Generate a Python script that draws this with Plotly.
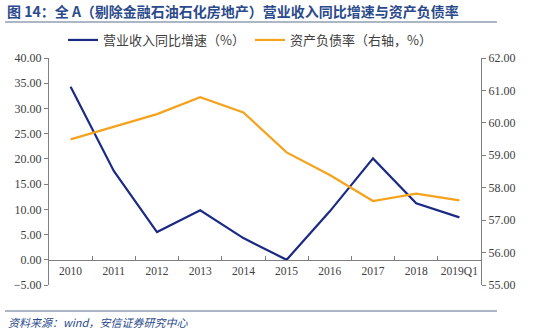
import plotly.graph_objects as go

categories = ["2010", "2011", "2012", "2013", "2014", "2015", "2016", "2017", "2018", "2019Q1"]
revenue_growth = [34.3, 17.6, 5.5, 9.8, 4.3, 0.0, 9.6, 20.1, 11.2, 8.4]
debt_ratio = [59.49, 59.88, 60.27, 60.79, 60.32, 59.09, 58.39, 57.59, 57.82, 57.61]

left_ticks = [-5, 0, 5, 10, 15, 20, 25, 30, 35, 40]
right_ticks = [55, 56, 57, 58, 59, 60, 61, 62]

BLUE = "#1B2A84"
ORANGE = "#F5A21C"
TXT = "#404040"
HEAD = "#2B4A8B"
serif = "Liberation Serif"
cjk = "Noto Sans CJK SC"

fig = go.Figure()
fig.add_trace(go.Scatter(x=categories, y=revenue_growth, mode="lines",
                         name="营业收入同比增速（%）",
                         line=dict(color=BLUE, width=2.2), yaxis="y"))
fig.add_trace(go.Scatter(x=categories, y=debt_ratio, mode="lines",
                         name="资产负债率（右轴，%）",
                         line=dict(color=ORANGE, width=2.2), yaxis="y2"))

W, H = 550, 333
L, R, T, B = 49, 69, 58, 48
pw, ph = W - L - R, H - T - B
def px(x):
    return (x - L) / pw
def py(y):
    return (H - B - y) / ph

zero_pos = 5 / 45.0

fig.update_layout(
    width=W, height=H,
    margin=dict(l=L, r=R, t=T, b=B),
    paper_bgcolor="white", plot_bgcolor="white",
    showlegend=True,
    legend=dict(orientation="h", x=px(250), xanchor="center", y=py(40), yanchor="middle",
                font=dict(family=cjk, size=13, color=TXT), bgcolor="rgba(0,0,0,0)",
                itemwidth=30, tracegroupgap=0),
    xaxis=dict(type="category", anchor="free", position=zero_pos,
               showline=True, linecolor="#808080", linewidth=1,
               ticks="inside", tickson="boundaries", ticklen=4, tickcolor="#808080",
               showgrid=False, zeroline=False, tickangle=0,
               tickfont=dict(family=serif, size=11.5, color=TXT),
               range=[-0.5, 9.5]),
    yaxis=dict(range=[-5, 40], tickvals=left_ticks, tickformat=".2f",
               showline=True, linecolor="#808080", linewidth=1,
               ticks="outside", ticklen=4, tickcolor="#808080",
               showgrid=False, zeroline=False,
               tickfont=dict(family=serif, size=12, color=TXT)),
    yaxis2=dict(range=[55, 62], tickvals=right_ticks, tickformat=".2f",
                overlaying="y", side="right",
                showline=True, linecolor="#808080", linewidth=1,
                ticks="outside", ticklen=4, tickcolor="#808080",
                showgrid=False, zeroline=False,
                tickfont=dict(family=serif, size=12, color=TXT)),
    shapes=[
        dict(type="line", xref="paper", yref="paper", x0=px(5), x1=px(497), y0=py(22), y1=py(22),
             line=dict(color="#5A6E8C", width=1.2)),
        dict(type="line", xref="paper", yref="paper", x0=px(5), x1=px(497), y0=py(311), y1=py(311),
             line=dict(color="#5A6E8C", width=1.2)),
    ],
    annotations=[
        dict(text="<b>图 14：全 A（剔除金融石油石化房地产）营业收入同比增速与资产负债率</b>",
             xref="paper", yref="paper", x=px(5), y=py(11), xanchor="left", yanchor="middle",
             showarrow=False, font=dict(family=cjk, size=14, color=HEAD)),
        dict(text="<i>资料来源：wind，安信证券研究中心</i>",
             xref="paper", yref="paper", x=px(6), y=py(322), xanchor="left", yanchor="middle",
             showarrow=False, font=dict(family=cjk, size=11, color=HEAD)),
    ],
)

fig.write_html("out.html")
